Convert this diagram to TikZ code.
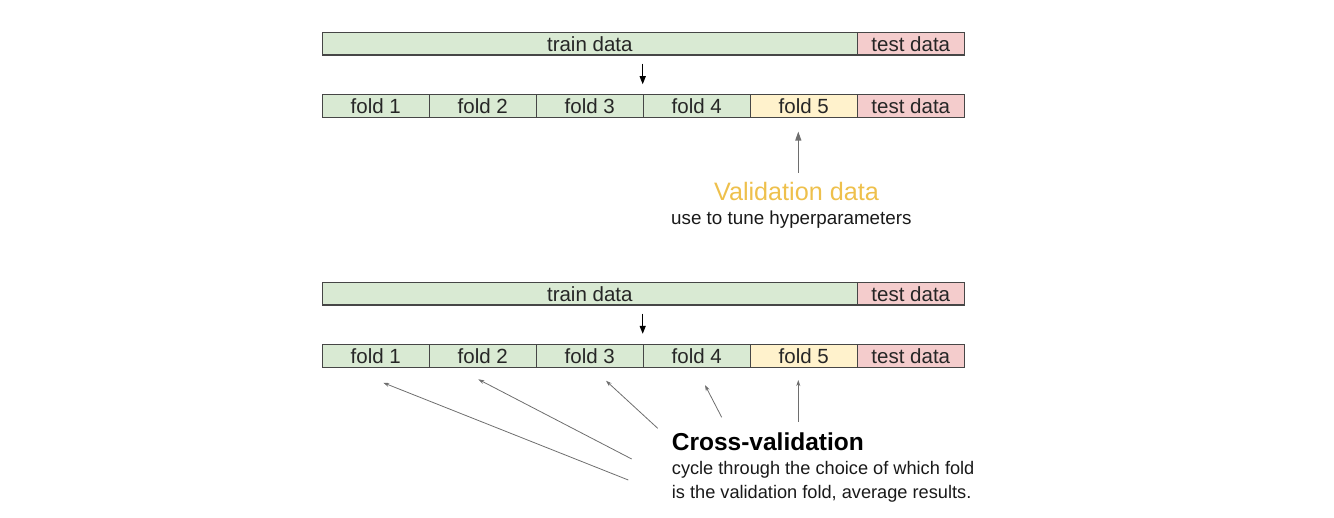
\documentclass[tikz,border=0pt]{standalone}
\usepackage{fontspec}
\setmainfont{Liberation Sans}
\usetikzlibrary{arrows.meta,calc}
\definecolor{gfill}{RGB}{217,234,211}
\definecolor{rfill}{RGB}{244,204,204}
\definecolor{yfill}{RGB}{255,242,204}
\definecolor{bord}{RGB}{70,70,70}
\definecolor{valc}{RGB}{238,192,76}
\definecolor{arrg}{RGB}{110,110,110}
\begin{document}
\begin{tikzpicture}[x=1pt,y=-1pt,
  cell/.style={draw=bord, line width=1.2pt, minimum height=22.7pt, minimum width=107pt,
    inner sep=0pt, font=\fontsize{20.5}{24}\selectfont, text=black!85},
  gcell/.style={cell, fill=gfill},
  rcell/.style={cell, fill=rfill},
  ycell/.style={cell, fill=yfill},
  darr/.style={line width=1.2pt, -{Triangle[length=8pt,width=6pt]}},
  varr/.style={draw=arrg, line width=1.1pt, -{Triangle[length=9pt,width=6pt]}},
  carr/.style={draw=arrg, line width=0.8pt, -{Stealth[length=6pt,width=4pt]}},
  lbl/.style={inner sep=0pt, anchor=base west, text=black!90}]
\useasboundingbox (0,0) rectangle (1334,518);

% ---------- top half ----------
\node[gcell, minimum width=535pt] (trainA) at (589.8,43.7) {train data};
\node[rcell] (testA) at (910.8,43.7) {test data};
\node[gcell] (fA1) at (375.8,106.2) {fold 1};
\node[gcell] (fA2) at (482.8,106.2) {fold 2};
\node[gcell] (fA3) at (589.8,106.2) {fold 3};
\node[gcell] (fA4) at (696.8,106.2) {fold 4};
\node[ycell] (fA5) at (803.8,106.2) {fold 5};
\node[rcell] (testA2) at (910.8,106.2) {test data};

\draw[darr, shorten <=8pt, shorten >=10pt] (trainA.south -| fA4.north west) -- (fA4.north west);

\node[inner sep=0pt, anchor=base, text=valc, font=\fontsize{25.2}{30}\selectfont] (valtitle) at (796.5,201) {Validation data};
\node[lbl, font=\fontsize{18.8}{22}\selectfont] (valsub) at (671,224.5) {use to tune hyperparameters};
\coordinate (vtail) at (798.3,172.7);
\draw[varr, shorten >=13.4pt] (vtail) -- (vtail |- fA5.south);

% ---------- bottom half ----------
\node[gcell, minimum width=535pt] (trainB) at (589.8,293.7) {train data};
\node[rcell] (testB) at (910.8,293.7) {test data};
\node[gcell] (fB1) at (375.8,355.8) {fold 1};
\node[gcell] (fB2) at (482.8,355.8) {fold 2};
\node[gcell] (fB3) at (589.8,355.8) {fold 3};
\node[gcell] (fB4) at (696.8,355.8) {fold 4};
\node[ycell] (fB5) at (803.8,355.8) {fold 5};
\node[rcell] (testB2) at (910.8,355.8) {test data};

\draw[darr, shorten <=8pt, shorten >=10pt] (trainB.south -| fB4.north west) -- (fB4.north west);

\node[lbl, font=\bfseries\fontsize{24.5}{29}\selectfont, text=black] (cvtitle) at (671.7,451) {Cross-validation};
\node[lbl, font=\fontsize{18.2}{22}\selectfont] (cvl1) at (671.7,475) {cycle through the choice of which fold};
\node[lbl, font=\fontsize{18.2}{22}\selectfont] (cvl2) at (671.7,498.7) {is the validation fold, average results.};

\coordinate (c1) at (628.3,480);
\coordinate (c2) at (631.7,459);
\coordinate (c3) at (657.7,428.3);
\coordinate (c4) at (721.7,417.3);
\coordinate (c5) at (798.3,421.7);
\draw[carr] (c1) -- ($(fB1.south)+(7.5,15)$);
\draw[carr] (c2) -- ($(fB2.south)+(-4.5,11.6)$);
\draw[carr] (c3) -- ($(fB3.south)+(16.2,13)$);
\draw[carr] (c4) -- ($(fB4.south)+(8.2,17.3)$);
\draw[carr] (c5) -- ($(fB5.south)+(-5.5,12.3)$);
\end{tikzpicture}
\end{document}
